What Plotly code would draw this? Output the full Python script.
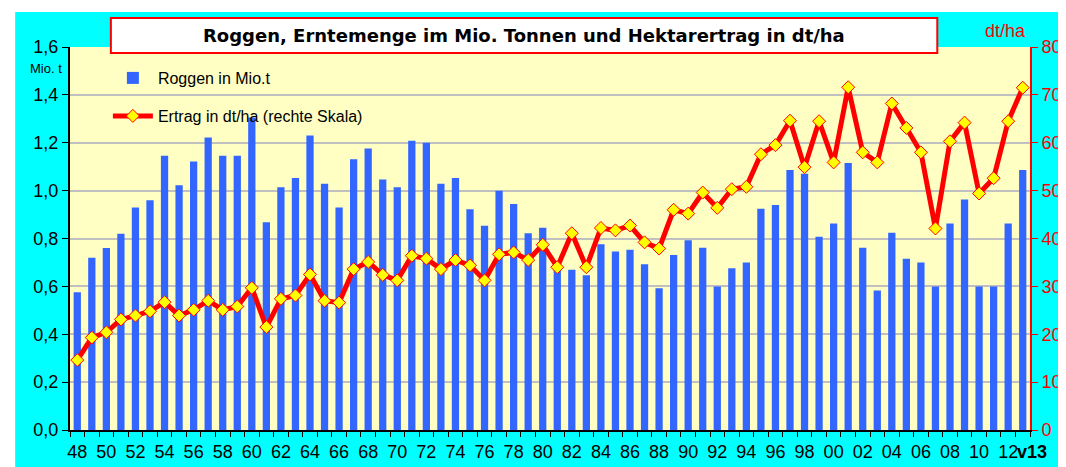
import plotly.graph_objects as go

years = list(range(1948, 2014))
roggen_mio_t = [0.575, 0.72, 0.76, 0.82, 0.93, 0.96, 1.146, 1.022, 1.122, 1.222,
                1.146, 1.146, 1.306, 0.868, 1.014, 1.053, 1.23, 1.029, 0.93, 1.131,
                1.176, 1.046, 1.014, 1.208, 1.2, 1.029, 1.053, 0.922, 0.853, 0.999,
                0.944, 0.822, 0.845, 0.675, 0.669, 0.646, 0.776, 0.746, 0.753, 0.692,
                0.592, 0.731, 0.793, 0.761, 0.6, 0.676, 0.7, 0.924, 0.94, 1.086,
                1.07, 0.807, 0.8625, 1.115, 0.761, 0.583, 0.824, 0.715, 0.7, 0.6,
                0.8625, 0.9625, 0.6, 0.6, 0.8625, 1.086]
ertrag_dt_ha = [14.6, 19.3, 20.4, 23.1, 23.9, 24.8, 26.7, 23.9, 25.1, 27.0,
                25.1, 25.8, 29.7, 21.5, 27.4, 28.1, 32.5, 27.0, 26.6, 33.6,
                35.1, 32.4, 31.25, 36.4, 35.8, 33.6, 35.5, 34.4, 31.25, 36.7,
                37.1, 35.5, 38.7, 34.0, 41.1, 34.0, 42.2, 41.7, 42.7, 39.2,
                37.9, 46.0, 45.2, 49.6, 46.4, 50.3, 50.8, 57.6, 59.5, 64.6,
                54.9, 64.5, 55.9, 71.6, 58.0, 55.9, 68.2, 63.1, 58.0, 42.1,
                60.3, 64.2, 49.4, 52.6, 64.5, 71.5]
last_label = "v13"

cats = [str(y) for y in years]
tick_text = [f"{y % 100:02d}" if (y % 2 == 0 and y != years[-1]) else "" for y in years]

W, H = 1066, 467
ML, MR, MT, MB = 62, 41, 39, 45
PW, PH = W - ML - MR, H - MT - MB

def px(x):
    return (x - ML) / PW

def py(y):
    return (H - MB - y) / PH

FONT = "Arial, Liberation Sans, sans-serif"

fig = go.Figure()
fig.add_trace(go.Bar(
    x=cats, y=roggen_mio_t, name="Roggen in Mio.t",
    marker=dict(color="#3366FF", line=dict(width=0)),
    showlegend=True, legend="legend", yaxis="y"))
fig.add_trace(go.Scatter(
    x=cats, y=ertrag_dt_ha, name="Ertrag in dt/ha (rechte Skala)",
    mode="lines+markers",
    line=dict(color="#FF0000", width=5),
    marker=dict(symbol="diamond", size=10, color="#FFFF00",
                line=dict(color="#FF0000", width=1)),
    showlegend=True, legend="legend2", yaxis="y2"))

# centre of the last category, in paper units (category axis from -0.5 to n-0.5)
last_x = (len(cats) - 0.5) / len(cats)

fig.update_layout(
    width=W, height=H,
    showlegend=True,
    margin=dict(l=ML, r=MR, t=MT, b=MB, pad=0),
    paper_bgcolor="#00FFFF",
    plot_bgcolor="#FFFFC4",
    separators=",.",
    bargap=0.5,
    font=dict(family=FONT, color="black", size=18),
    xaxis=dict(type="category", tickmode="array", tickvals=cats, ticktext=tick_text,
               range=[-0.5, len(cats) - 0.5], autorange=False,
               tickangle=0, ticklabelstandoff=4,
               tickson="boundaries", ticks="outside", ticklen=5, tickcolor="black",
               showline=True, linecolor="black", linewidth=2, showgrid=False,
               tickfont=dict(size=18, color="black", family=FONT)),
    yaxis=dict(range=[0, 1.6], tickmode="array",
               tickvals=[0, 0.2, 0.4, 0.6, 0.8, 1.0, 1.2, 1.4, 1.6],
               tickformat=".1f", ticks="outside", ticklen=6, tickcolor="black",
               showline=True, linecolor="black", linewidth=2,
               showgrid=True, gridcolor="#C0C0C0", gridwidth=2, zeroline=False,
               tickfont=dict(size=18, color="black", family=FONT)),
    yaxis2=dict(range=[0, 80], overlaying="y", side="right", tickmode="array",
                tickvals=[0, 10, 20, 30, 40, 50, 60, 70, 80],
                ticks="outside", ticklen=6, tickcolor="#FF0000",
                showline=True, linecolor="#FF0000", linewidth=2,
                showgrid=False, zeroline=False,
                tickfont=dict(size=18, color="#FF0000", family=FONT)),
    legend=dict(x=px(100), y=py(70), xanchor="left", yanchor="middle",
                itemwidth=40,
                bgcolor="rgba(0,0,0,0)", font=dict(size=16, color="black", family=FONT)),
    legend2=dict(x=px(100), y=py(108), xanchor="left", yanchor="middle",
                 itemwidth=40,
                 bgcolor="rgba(0,0,0,0)", font=dict(size=16, color="black", family=FONT)),
    shapes=[
        dict(type="rect", xref="paper", yref="paper",
             x0=px(103), x1=px(932), y0=py(45), y1=py(10),
             fillcolor="white", line=dict(color="#FF0000", width=2), layer="above"),
        dict(type="rect", xref="paper", yref="paper",
             x0=px(-5), x1=px(1070), y0=py(4), y1=py(-5),
             fillcolor="white", line=dict(width=0), layer="below"),
        dict(type="rect", xref="paper", yref="paper",
             x0=px(-5), x1=px(7), y0=py(470), y1=py(-5),
             fillcolor="white", line=dict(width=0), layer="below"),
    ],
    annotations=[
        dict(text="<b>Roggen, Erntemenge im Mio. Tonnen und Hektarertrag in dt/ha</b>",
             xref="paper", yref="paper", x=px(517), y=py(28), showarrow=False,
             xanchor="center", yanchor="middle",
             font=dict(family="DejaVu Sans, sans-serif", size=18, color="black")),
        dict(text="Mio. t", xref="paper", yref="paper", x=px(20), y=py(60),
             showarrow=False, xanchor="left", yanchor="middle",
             font=dict(family=FONT, size=13, color="black")),
        dict(text="dt/ha", xref="paper", yref="paper", x=px(1000), y=py(23),
             showarrow=False, xanchor="center", yanchor="middle",
             font=dict(family=FONT, size=18, color="#FF0000")),
        dict(text=f"<b>{last_label}</b>", xref="paper", yref="paper", x=last_x, y=py(444),
             xshift=9, showarrow=False, xanchor="center", yanchor="middle",
             font=dict(family=FONT, size=18, color="black")),
    ],
)

fig.write_html("out.html")
